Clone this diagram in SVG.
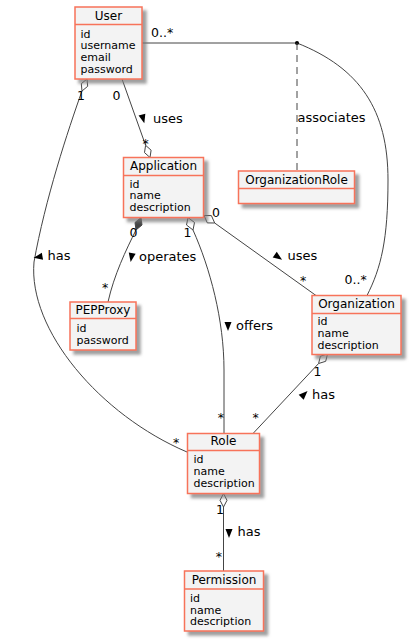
<svg xmlns="http://www.w3.org/2000/svg" width="414" height="644" viewBox="0 0 414 644">
<style>
.box{fill:#F3F3F3;stroke:#F7735A;stroke-width:1.5;filter:url(#sh)}
.sep{stroke:#F7735A;stroke-width:1.5}
.t{font-family:"DejaVu Sans",sans-serif;font-size:12px;fill:#000;text-anchor:middle}
.a{font-family:"DejaVu Sans",sans-serif;font-size:11px;fill:#000}
.l{font-family:"DejaVu Sans",sans-serif;font-size:13px;fill:#000}
.m{font-family:"DejaVu Sans",sans-serif;font-size:12.5px;fill:#000}
.ln{fill:none;stroke:#444;stroke-width:1}
.od{fill:#fff;stroke:#444;stroke-width:1}
.fd{fill:#444;stroke:#444;stroke-width:1}
.tri{fill:#000}
</style>
<defs>
<filter id="sh" x="-20%" y="-20%" width="150%" height="150%">
<feDropShadow dx="4" dy="4" stdDeviation="1.8" flood-color="#777" flood-opacity="0.7"/>
</filter>
<polygon id="ar" points="-4,-3.5 5,0 -4,3.5"/>
</defs>

<g id="connectors">
<!-- User - Application -->
<path class="ln" d="M122,79 L145.6,145.3"/>
<polygon class="od" points="150,157.5 151.1,150.2 145.6,145.3 144.5,152.6"/>
<use href="#ar" class="tri" transform="translate(143,118.5) rotate(75)"/>
<text class="l" x="153" y="123">uses</text>
<text class="m" x="112.5" y="100">0</text>
<text class="m" x="142.5" y="147.5">*</text>
<!-- User - Role -->
<path class="ln" d="M82,91 C68,130 45,200 34,262 C28,330 100,415 187,452"/>
<polygon class="od" points="87,79 87.7,86.3 82,91 81.3,83.7"/>
<use href="#ar" class="tri" transform="translate(38.5,257) rotate(170)"/>
<text class="l" x="47.5" y="260">has</text>
<text class="m" x="77" y="100">1</text>
<text class="m" x="173" y="446.5">*</text>
<!-- User - Organization (association class) -->
<path class="ln" d="M142,43 L297,43"/>
<path class="ln" d="M297,43 C360,68 388,110 388,180 C388,240 381,268 367,295.5"/>
<circle cx="297" cy="43" r="2" fill="#000"/>
<path class="ln" d="M297,43 L297,171" stroke-dasharray="7,5"/>
<text class="l" x="297.5" y="122">associates</text>
<text class="m" x="151" y="37">0..*</text>
<text class="m" x="344.5" y="284">0..*</text>
<!-- Application - PEPProxy -->
<path class="ln" d="M136,230 C126,250 114,275 108,302"/>
<polygon class="fd" points="141,217.5 142,225 136,230 135,222.5"/>
<use href="#ar" class="tri" transform="translate(131.5,257) rotate(100)"/>
<text class="l" x="139" y="260.5">operates</text>
<text class="m" x="129.5" y="236.5">0</text>
<text class="m" x="102" y="292.3">*</text>
<!-- Application - Role -->
<path class="ln" d="M193,230 C210,268 224,320 224,370 L224,433.5"/>
<polygon class="od" points="188,217.5 194.5,222.5 193,230 186.5,225"/>
<use href="#ar" class="tri" transform="translate(228,326) rotate(90)"/>
<text class="l" x="236" y="330">offers</text>
<text class="m" x="183.5" y="236.5">1</text>
<text class="m" x="217.8" y="422.3">*</text>
<!-- Application - Organization -->
<path class="ln" d="M214.7,223 L316,295.5"/>
<polygon class="od" points="204,215.5 211.4,215.6 214.7,223 207.3,222.9"/>
<use href="#ar" class="tri" transform="translate(278,257) rotate(35)"/>
<text class="l" x="287.5" y="260">uses</text>
<text class="m" x="212" y="216.5">0</text>
<text class="m" x="300" y="284.6">*</text>
<!-- Organization - Role -->
<path class="ln" d="M318.6,363.5 L253,433.5"/>
<polygon class="od" points="327.5,354 325.7,361.3 318.6,363.5 320.4,356.2"/>
<use href="#ar" class="tri" transform="translate(304,394.5) rotate(-45)"/>
<text class="l" x="312" y="398.5">has</text>
<text class="m" x="313.5" y="376">1</text>
<text class="m" x="252.5" y="422.3">*</text>
<!-- Role - Permission -->
<path class="ln" d="M223.5,507 L223.5,571"/>
<polygon class="od" points="223.5,493.5 227,500.3 223.5,507 220,500.3"/>
<use href="#ar" class="tri" transform="translate(229,533) rotate(90)"/>
<text class="l" x="237.5" y="536">has</text>
<text class="m" x="216" y="514">1</text>
<text class="m" x="215.8" y="561">*</text>
</g>

<g id="User">
<rect class="box" x="75" y="7" width="67" height="72"/>
<line class="sep" x1="75" y1="24.5" x2="142" y2="24.5"/>
<text class="t" x="108.5" y="19.5">User</text>
<text class="a" x="80.5" y="37.5">id</text>
<text class="a" x="80.5" y="49.3">username</text>
<text class="a" x="80.5" y="61.1">email</text>
<text class="a" x="80.5" y="72.9">password</text>
</g>

<g id="Application">
<rect class="box" x="123.5" y="157.5" width="80" height="60"/>
<line class="sep" x1="123.5" y1="175.5" x2="203.5" y2="175.5"/>
<text class="t" x="163.5" y="170">Application</text>
<text class="a" x="129.5" y="187.5">id</text>
<text class="a" x="129.5" y="199.3">name</text>
<text class="a" x="129.5" y="211.1">description</text>
</g>

<g id="OrganizationRole">
<rect class="box" x="238.5" y="171" width="116" height="32.5"/>
<line class="sep" x1="238.5" y1="188.5" x2="354.5" y2="188.5"/>
<text class="t" x="296.5" y="183.5">OrganizationRole</text>
</g>

<g id="Organization">
<rect class="box" x="312" y="295.5" width="89" height="59"/>
<line class="sep" x1="312" y1="313.5" x2="401" y2="313.5"/>
<text class="t" x="356.5" y="308">Organization</text>
<text class="a" x="317.5" y="325">id</text>
<text class="a" x="317.5" y="336.8">name</text>
<text class="a" x="317.5" y="348.6">description</text>
</g>

<g id="PEPProxy">
<rect class="box" x="70" y="302" width="66" height="48"/>
<line class="sep" x1="70" y1="318.5" x2="136" y2="318.5"/>
<text class="t" x="103" y="313.5">PEPProxy</text>
<text class="a" x="76.5" y="331.7">id</text>
<text class="a" x="76.5" y="343.5">password</text>
</g>

<g id="Role">
<rect class="box" x="187.5" y="433.5" width="72" height="60"/>
<line class="sep" x1="187.5" y1="450.5" x2="259.5" y2="450.5"/>
<text class="t" x="223.5" y="445.3">Role</text>
<text class="a" x="193.5" y="463.3">id</text>
<text class="a" x="193.5" y="475.1">name</text>
<text class="a" x="193.5" y="486.9">description</text>
</g>

<g id="Permission">
<rect class="box" x="184.5" y="571" width="79" height="60"/>
<line class="sep" x1="184.5" y1="589" x2="263.5" y2="589"/>
<text class="t" x="224" y="584">Permission</text>
<text class="a" x="190" y="601.7">id</text>
<text class="a" x="190" y="613.5">name</text>
<text class="a" x="190" y="625.3">description</text>
</g>
</svg>
